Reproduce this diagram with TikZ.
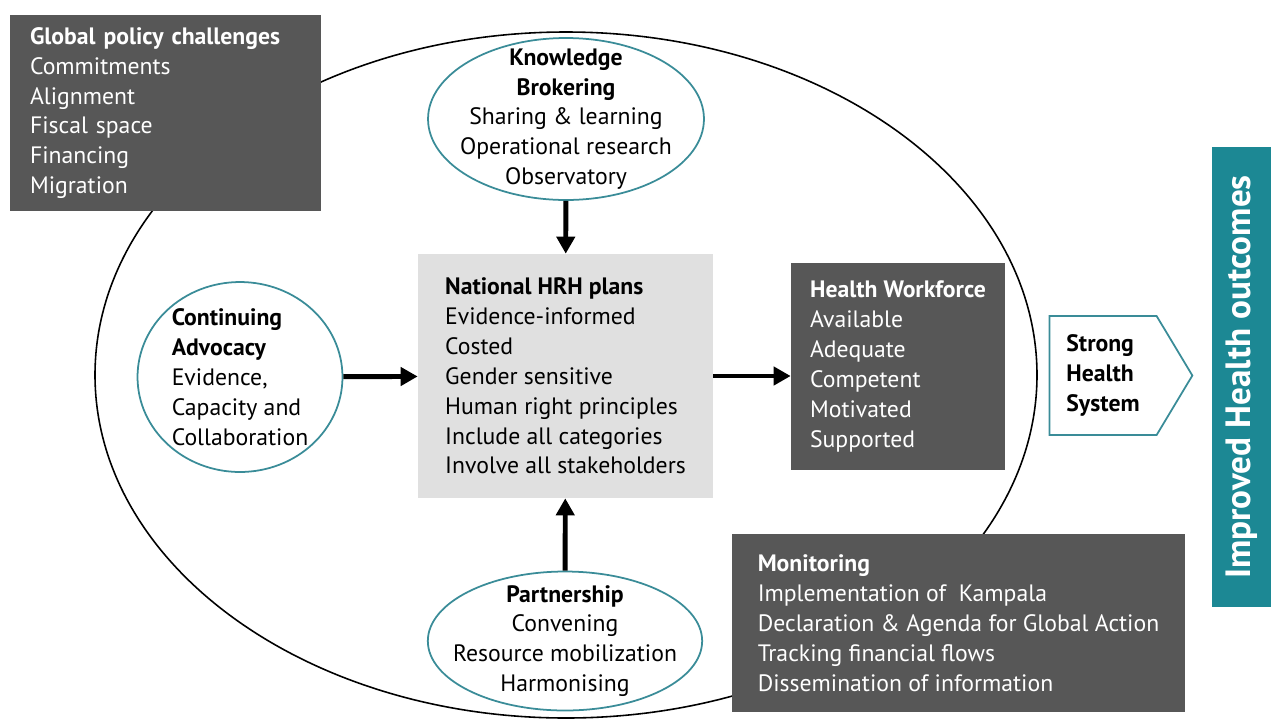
\documentclass[tikz,border=0pt]{standalone}
\usepackage{fontspec}
\setmainfont{PT Sans}
\usepackage{xcolor}
\definecolor{DarkBox}{RGB}{87,87,87}
\definecolor{PlanBox}{RGB}{224,224,224}
\definecolor{TealLine}{RGB}{58,140,152}
\definecolor{TealFill}{RGB}{28,136,148}
\usetikzlibrary{shapes.geometric, shapes.symbols, arrows.meta}

\begin{document}
\begin{tikzpicture}[
    x=0.02cm, y=-0.02cm,
    darkbox/.style={rectangle, fill=DarkBox, text=white, align=left, inner sep=0pt, font=\fontsize{13.5}{17}\selectfont},
    topic/.style={ellipse, draw=TealLine, line width=1pt, fill=white, align=center, inner sep=-0.3cm, font=\fontsize{13.5}{17}\selectfont},
    arrow/.style={-{Triangle[length=3.4mm, width=3.6mm]}, line width=2.8pt},
]
\useasboundingbox (0,0) rectangle (1271,721);

% Outer ellipse
\draw[line width=0.9pt] (566,375) ellipse [x radius=471, y radius=343];

% Global policy challenges
\node[darkbox, minimum width=6.22cm, minimum height=3.92cm, text width=5.42cm, inner xsep=0.4cm] (policy) at (165.5,113) {
    \textbf{Global policy challenges}\\
    Commitments\\
    Alignment\\
    Fiscal space\\
    Financing\\
    Migration
};

% Knowledge brokering
\node[topic, minimum width=5.52cm, minimum height=3.24cm] (knowledge) at (566,119) {
    \textbf{Knowledge}\\
    \textbf{Brokering}\\
    Sharing \& learning\\
    Operational research\\
    Observatory
};

% Continuing advocacy
\node[topic, align=left, minimum width=4.1cm, minimum height=3.8cm] (advocacy) at (240,377) {
    \textbf{Continuing}\\
    \textbf{Advocacy}\\
    Evidence,\\
    Capacity and\\
    Collaboration
};

% National HRH plans
\node[rectangle, fill=PlanBox, align=left, minimum width=5.9cm, minimum height=4.88cm, inner sep=0pt, font=\fontsize{13.5}{17}\selectfont] (plans) at (565.5,376) {
    \textbf{National HRH plans}\\
    Evidence-informed\\
    Costed\\
    Gender sensitive\\
    Human right principles\\
    Include all categories\\
    Involve all stakeholders
};

% Health workforce
\node[darkbox, minimum width=4.28cm, minimum height=4.14cm] (workforce) at (898,366.5) {
    \textbf{Health Workforce}\\
    Available\\
    Adequate\\
    Competent\\
    Motivated\\
    Supported
};

% Partnership
\node[topic, minimum width=5.28cm, minimum height=2.78cm] (partner) at (565,641) {
    \textbf{Partnership}\\
    Convening\\
    Resource mobilization\\
    Harmonising
};

% Monitoring
\node[darkbox, minimum width=9.06cm, minimum height=3.56cm] (monitor) at (958.5,623) {
    \textbf{Monitoring}\\
    Implementation of~ Kampala\\
    Declaration \& Agenda for Global Action\\
    Tracking financial flows\\
    Dissemination of information
};

% Strong health system
\node[signal, signal to=east, signal pointer angle=118, draw=TealLine, line width=1pt, fill=white, align=left, minimum width=2.86cm, minimum height=2.38cm, font=\bfseries\fontsize{13.5}{17}\selectfont] (strong) at (1103,375.5) {
    Strong\\
    Health\\
    System
};

% Improved health outcomes
\node[rectangle, fill=TealFill, text=white, minimum width=9.2cm, minimum height=1.18cm, inner sep=0pt, rotate=90, font=\bfseries\fontsize{20}{24}\selectfont] (outcomes) at (1241.5,377) {Improved Health outcomes};

% Arrows
\draw[arrow] (knowledge) -- (plans);
\draw[arrow] (partner) -- (plans);
\draw[arrow] (advocacy) -- (plans);
\draw[arrow] (plans.east) -- (plans.east -| workforce.west);

\end{tikzpicture}
\end{document}
